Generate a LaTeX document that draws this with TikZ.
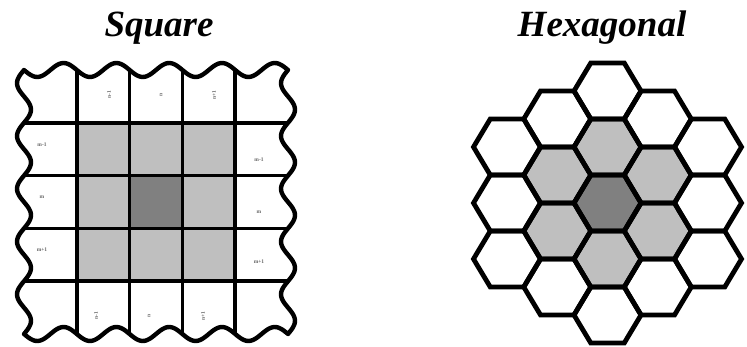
\documentclass[tikz,border=0pt]{standalone}
\usepackage{fontspec}
\setmainfont{Liberation Serif}
\begin{document}
\begin{tikzpicture}[x=1pt,y=-1pt,
  title/.style={font=\fontsize{37}{40}\selectfont\bfseries\itshape, anchor=base, inner sep=0pt},
  gridline/.style={line width=3.6pt},
  outline/.style={line width=4.4pt, line join=round},
  cellmark/.style={font=\fontsize{5.5}{6}\selectfont\bfseries, text=black!60, inner sep=0pt},
  hexcell/.style={line width=4.8pt, line join=miter}]
\definecolor{cellring}{gray}{0.75}
\definecolor{cellcore}{gray}{0.50}
\useasboundingbox (0,0) rectangle (747,347);

% ---------- titles ----------
\node[title] (tsq) at (159,37) {Square};
\node[title] (thx) at (602,37) {Hexagonal};

% ---------- square lattice ----------
% frame corners (24,70)-(288,334), cell size 52.8 (wave: 360/52.8 = 6.8182 deg per unit)
\fill[cellring] (76.8,122.8) rectangle (235.2,281.2);
\fill[cellcore] (129.6,175.6) rectangle (182.4,228.4);
\foreach \k in {1,2,3,4}{
  \draw[gridline] ({24+52.8*\k},70) -- ({24+52.8*\k},334);
  \draw[gridline] (24,{70+52.8*\k}) -- (288,{70+52.8*\k});
}
\draw[outline]
  plot[domain=0:264, samples=121, smooth] ({24+\x},{70+7*sin(6.8182*\x)})
  -- plot[domain=0:264, samples=121, smooth] ({288-7*sin(6.8182*\x)},{70+\x})
  -- plot[domain=0:264, samples=121, smooth] ({288-\x},{334-7*sin(6.8182*\x)})
  -- plot[domain=0:264, samples=121, smooth] ({24+7*sin(6.8182*\x)},{334-\x})
  -- cycle;

% small index marks in the border cells
\node[cellmark] (l1) at (42,145) {m-1};
\node[cellmark] (l2) at (42,197) {m};
\node[cellmark] (l3) at (42,250) {m+1};
\node[cellmark] (r1) at (259,160) {m-1};
\node[cellmark] (r2) at (259,212) {m};
\node[cellmark] (r3) at (259,262) {m+1};
\node[cellmark, rotate=90] (t1) at (109,95) {n-1};
\node[cellmark, rotate=90] (t2) at (161,95) {n};
\node[cellmark, rotate=90] (t3) at (214,95) {n+1};
\node[cellmark, rotate=90] (b1) at (96,316) {n-1};
\node[cellmark, rotate=90] (b2) at (149,316) {n};
\node[cellmark, rotate=90] (b3) at (203,316) {n+1};

% ---------- hexagonal lattice ----------
% flat-topped cells, half-width 33.5, half-height 28, centre (607.5,203)
\foreach \pass in {0,1}{
 \foreach \q in {-2,...,2}{
  \foreach \r in {-2,...,2}{
   \pgfmathtruncatemacro{\ss}{abs(\q+\r)}
   \pgfmathtruncatemacro{\dd}{max(abs(\q),abs(\r),abs(\q+\r))}
   \pgfmathsetmacro{\cx}{607.5+50.25*\q}
   \pgfmathsetmacro{\cy}{203+56*(\r+\q/2)}
   \ifnum\ss<3
    \ifnum\dd=0 \def\hc{cellcore}\else\ifnum\dd=1 \def\hc{cellring}\else\def\hc{white}\fi\fi
    \ifnum\pass=0
     \fill[\hc, shift={(\cx,\cy)}] (33.5,0) -- (16.75,28) -- (-16.75,28) -- (-33.5,0) -- (-16.75,-28) -- (16.75,-28) -- cycle;
    \else
     \draw[hexcell, shift={(\cx,\cy)}] (33.5,0) -- (16.75,28) -- (-16.75,28) -- (-33.5,0) -- (-16.75,-28) -- (16.75,-28) -- cycle;
    \fi
   \fi
  }
 }
}
\end{tikzpicture}
\end{document}
